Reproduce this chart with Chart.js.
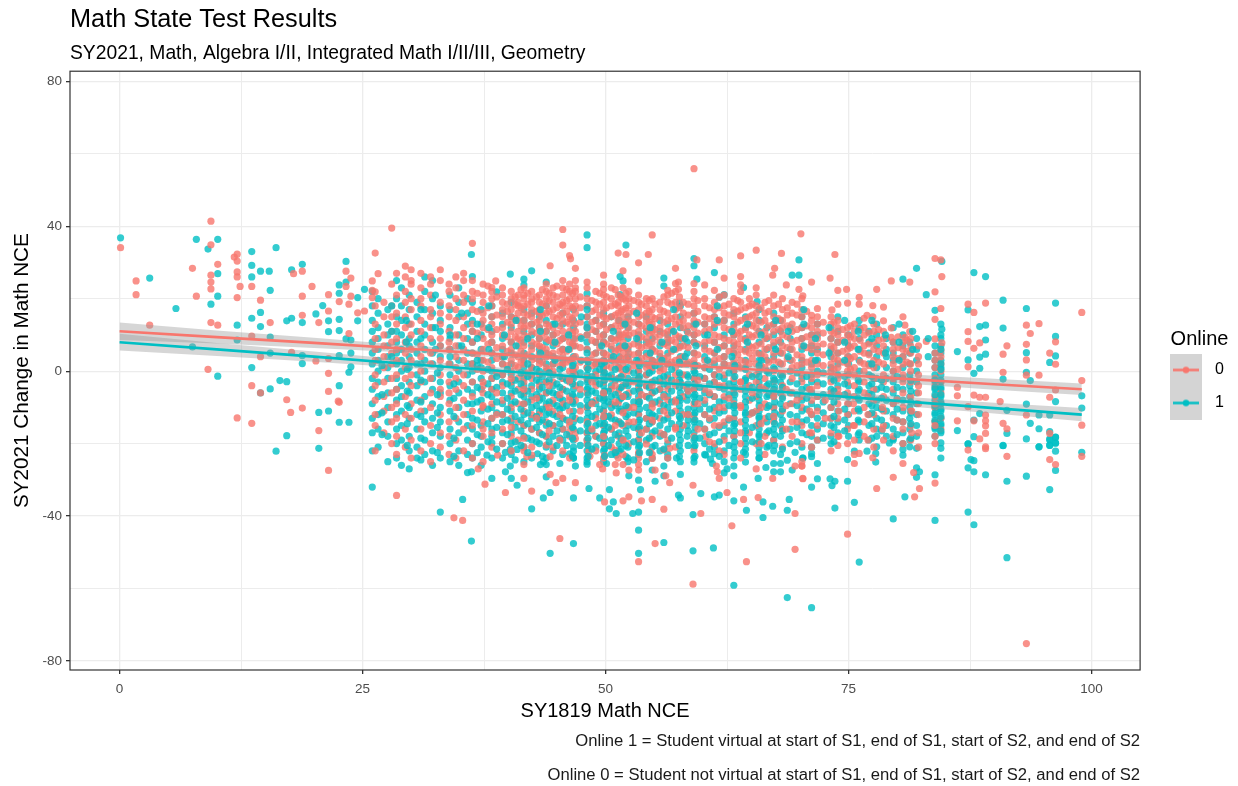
<!DOCTYPE html>
<html>
<head>
<meta charset="utf-8">
<title>Math State Test Results</title>
<script src="https://cdn.jsdelivr.net/npm/chart.js@4"></script>
<style>
    html, body { margin: 0; padding: 0; background: #fff; }
    #wrap { position: relative; width: 1238px; height: 786px; overflow: hidden; }
    .note { position: absolute; right: 98px; font: 16.65px "Liberation Sans", Arial, sans-serif; color: #1a1a1a; white-space: nowrap; }
</style>
</head>
<body>
<div id="wrap">
    <canvas id="scatterChart" width="1238" height="786"></canvas>
    <div class="note" style="top:731px">Online 1 = Student virtual at start of S1, end of S1, start of S2, and end of S2</div>
    <div class="note" style="top:765px">Online 0 = Student not virtual at start of S1, end of S1, start of S2, and end of S2</div>
</div>
<script>
var xTicks = [0, 12.5, 25, 37.5, 50, 62.5, 75, 87.5, 100];
var yTicks = [-80, -60, -40, -20, 0, 20, 40, 60, 80];
var xLabels = ["0", "", "25", "", "50", "", "75", "", "100"];
var yLabels = ["-80", "", "-40", "", "0", "", "40", "", "80"];

var trendScores = [0, 10, 20, 30, 40, 50, 60, 70, 80, 90, 99];
var online0Trend = [11, 9.4, 7.8, 6.1, 4.5, 2.9, 1.3, -0.3, -2, -3.6, -5];
var online0Upper = [13.4, 11.2, 9.2, 7.1, 5.3, 3.6, 2.1, 0.7, -0.7, -2.1, -3.4];
var online0Lower = [8.6, 7.6, 6.4, 5.1, 3.7, 2.2, 0.5, -1.3, -3.3, -5.1, -6.6];
var online1Trend = [8, 6, 4, 1.9, -0.1, -2.1, -4.1, -6.1, -8.2, -10.2, -12];
var online1Upper = [10.3, 7.8, 5.4, 3, 0.8, -1.3, -3.2, -5, -6.9, -8.7, -10.2];
var online1Lower = [5.7, 4.2, 2.6, 0.8, -1, -2.9, -5, -7.2, -9.5, -11.7, -13.8];

// single points: [score, change]
var online0Edge = [
    [0.1,34.1],[1.7,24.9],[1.7,21.1],[3.1,12.7],[7.5,28.4],[7.9,20.7],[9.4,41.4],[9.4,34.9],[9.4,26.5],[9.4,24.6],[9.4,22.7],[9.4,13.4],
    [10.1,12.7],[10.1,29.5],[11.8,31.5],[12.1,32.3],[12.1,30.4],[12.1,27.4],[12.1,26],[12.4,23.4],[12.1,20.3],[13.6,23.4],[14.5,19.6],[13.6,9.7],
    [15.5,13.4],[14.5,4],[17.7,5.2],[17.9,26.9],[18.8,27.6],[18.8,20.7],[18.8,15.4],[19.8,23.4],[20.5,13.4],[20.2,2.8],[21.5,21.1],[21.5,16.6],
    [22.6,19.2],[23.3,27.6],[23.3,23.4],[23.8,25.7],[23.8,20.7],[23.6,18.5],[23.6,10.4],[24.5,16.1],[25.2,16.6],[26.3,32.6],[26.6,26.9],[26,24.9],
    [26,22.3],[26.3,21.9],[26,20.3],[28,39.5],[9.1,0.5],[21.5,3.5],[13.6,-4],[14.5,-6],[21.5,-0.6],[21.5,-5.6],[17.2,-7.9],[22.5,-8.3],[22.6,-8.6],
    [17.6,-11.4],[18.8,-10.2],[12.1,-12.9],[13.6,-14.4],[20.5,-16.4],[21.5,-27.4],[26.3,-22],[28.5,-34.3],[34.4,-40.5],[35.3,-41.2],
    [36.3,35.3],[45.6,39.1],[45.6,34.8],[46.3,31.9],[46.4,31],[44.3,29.1],[46.9,28.4],[38.7,24.9],[38.3,23.1],[51.3,32.6],[52.1,32.2],[54.4,32.2],
    [54.8,37.6],[53.4,29.9],[51.8,27.7],[49.8,26.5],[53.4,24.9],[49.8,22.6],[48.1,24.6],[59.1,55.9],[59.4,30.7],[61.7,30.7],[57.2,28.4],[63.9,31.8],
    [65.5,33.4],[68.1,32.5],[70.1,37.9],[67.4,28.4],[67.2,26.5],[63.9,26.1],[62.2,25.7],[60.2,23.8],[59.1,24.2],[57.2,24.2],[57.5,24.6],[57.5,22.6],
    [56.4,22.3],[61.2,22.3],[63.9,23.8],[65.5,23],[68.6,23.8],[69.9,22.6],[70.3,20.8],[73.6,32.2],[71.2,24.6],[73.1,25.7],[73.9,22.3],[74.8,22.6],
    [76.1,20.4],[77.9,22.6],[79.4,24.9],[81.3,24.6],[83.9,31.1],[84.5,30.7],[84.6,26.1],[83.9,21.9],[73.9,18.5],[74.9,18.8],[77.5,18.1],[78.6,17.7],
    [71.8,17.3],[76.1,18.5],[73.3,16.9],[71.2,15.4],[71.8,15],[76.6,14.6],[76.9,15.4],[77.5,15],[78.6,13.9],[80.6,15],[80.8,12.7],[79.4,11.9],
    [81.3,10.9],[80.8,9.3],[79.4,9.3],[83.9,14.3],[84.5,17.3],[83.9,8.9],[83,8.2],[84.6,7.8],[84.5,5.8],[87.3,18.5],[87.9,16.2],[89.1,18.8],
    [87.3,10.9],[87.3,8.2],[87.9,6.3],[88.5,7.8],[87.3,1.2],[91.3,7],[90.9,4.7],[90.9,-0.3],[93.3,12.7],[93.7,10.4],[94.6,13.1],[93.3,7.4],
    [93.3,3.1],[95.7,5],[96.3,8.1],[96.3,1.9],[94.6,-1.1],[93.3,-1.1],[99,16.2],[99,-2.6],[99,-14.9],[95.7,-7.2],[90.6,-8.4],[89.1,-7.2],[88.5,-7.2],
    [87.9,-6.6],[86.2,-4.5],[86.2,-6.8],[87.3,-9.8],[86.2,-13.7],[87.9,-13.7],[89.1,-12.1],[89.1,-13.7],[89.1,-15.1],[90.9,-14.4],[91.3,-15.9],
    [93.3,-12.1],[95.7,-17.2],[89.1,-17.2],[88.5,-18.7],[89.1,-20.9],[96.3,-5.2],[74.9,-45],[93.3,-75.2],[77.9,-32.4],[79.6,-29.3],[82.3,-32.4],
    [81.8,-34.7],[83.9,-30.9],[81.7,-28],[91.3,-23.5],[99,-23.5],[95.7,-24.4],[96.3,-25.8],[87.3,-21.8],[89.1,-21.4],[70.3,-29.7],[70.2,-26.2],
    [75.6,-25.5],[80.6,-25.5],[73.9,-20.5],[76.1,-22.7],[77.5,-23.9],[37.6,-31.2],[39.7,-33.5],[42.4,-33.1],[41.6,-29.6],[41.6,-25.8],[41.9,-23.6],
    [42.4,-23.2],[44.3,-23.6],[44.3,-28.5],[44.9,-30.8],[45.6,-29.6],[46.9,-30.8],[45.3,-46.2],[49.9,-36.1],[51.8,-35.8],[52.4,-34.7],[53.7,-35.8],
    [54.8,-35.4],[56,-38.1],[51.1,-28.1],[49.7,-27],[49.4,-25.8],[51,-25.8],[51.8,-25.8],[52.4,-27.3],[53.4,-27.3],[53.4,-25.8],[55.1,-27.3],
    [56.2,-28.9],[56.6,-30.8],[59,-31.5],[59.8,-39.3],[62.5,-33.5],[61.4,-26.2],[61.5,-27.8],[61.7,-29.6],[63,-42.7],[64.2,-35.4],[65.7,-34.9],
    [65.5,-27],[67.2,-29.6],[69.5,-26.2],[70.2,-26.2],[70.3,-29.6],[69.5,-39.3],[69.5,-49.2],[64.5,-52.6],[55.1,-47.6],[53.4,-52.6],[59,-58.8],
    [36.9,-27],[38.9,-23.2],[41.6,-20.9],[43.9,-20.4],[46.3,-16.7],[46.9,-18.6],[48.1,-20.1],[48.3,-22.1],[48.4,-23.5],[49.9,-23.2],[51,-21.8],
    [53.4,-22.5],[54.2,-20.1],[54.6,-22.3],[54.8,-24.1],[56,-21.8],[56.6,-21.3],[60.3,-18.1],[61.7,-22]
];
var online1Edge = [
    [0.1,36.8],[3.1,25.7],[5.8,17.3],[7.9,36.4],[9.1,33.7],[10.1,36.4],[10.1,26.9],[10.1,20.7],[9.4,18.5],[7.5,6.7],[12.1,12.7],[12.1,8.6],
    [13.6,33],[13.6,29.2],[13.6,26],[14.5,27.6],[15.4,27.6],[15.5,22.3],[16.1,34.1],[14.5,16.2],[13.6,14.6],[14.5,12.3],[15.5,9.4],[15.5,5],
    [17.7,28],[18.8,29.5],[17.2,13.9],[17.7,14.6],[18.8,13.4],[18.8,4.3],[18.8,2.1],[13.6,1],[20.2,15.8],[20.9,18.1],[21.5,13.9],[21.5,10.9],
    [22.6,14.3],[22.6,11.2],[22.6,23.8],[22.6,21.5],[23.3,24.6],[23.3,30.3],[24.5,20.3],[25.2,22.6],[23.3,8.9],[23.8,8.6],[23.8,5],[22.6,4.3],
    [23.8,1.2],[24.5,13.9],[10.1,-1.4],[15.5,-4.9],[16.5,-2.6],[17.2,-2.9],[14.5,-6],[23.6,-0.3],[22.6,-4],[20.5,-11.4],[21.5,-11],[22.6,-14.1],
    [23.6,-14.1],[17.2,-17.8],[16.1,-22.1],[20.5,-21.3],[26,-32],[33,-38.9],[35.3,-35.4],[36.2,-46.9],[48.1,37.6],[48.1,34.1],[36.2,32.2],[52.1,34.8],
    [40.2,26.8],[42.4,27.7],[41.6,25.4],[41.6,23.8],[43.9,24.6],[36.3,26.1],[51.5,26.1],[51.8,24.9],[56,25.7],[56,23.5],[59.1,31.1],[59.1,29.1],
    [59.4,25.4],[61.2,27.2],[64.2,23.1],[69.9,30.7],[69.2,26.5],[69.9,26.5],[51.5,21.1],[48.1,21.4],[61.7,20.4],[62.2,21.1],[57.6,18.8],[65.6,19.2],
    [38.8,21.9],[82,28.4],[80.6,25.4],[83,21.1],[84.6,30.3],[87.9,27.2],[89.1,26.1],[90.9,19.6],[93.3,17.3],[96.3,18.8],[99,-6.8],[99,-10.2],
    [96.3,9.6],[96.3,4.2],[95.7,2.4],[93.3,5.1],[93.3,-0.3],[93.7,-2.6],[90.9,11.9],[90.9,-2.2],[91.3,-10.8],[93.3,-9.1],[94.6,-12.1],[95.7,-12.1],
    [93.7,-14.4],[94.6,-15.9],[95.7,-16.7],[95.7,-18.7],[95.7,-20.4],[96.3,-18.3],[96.3,-19.9],[96.3,-8.4],[93.3,-18.7],[94.6,-20.9],[90.9,-20.6],
    [91.3,-17.2],[86.2,5.4],[87.3,3.1],[87.9,-0.6],[88.5,0.8],[88.5,3.9],[89.1,4.7],[89.1,8.6],[88.5,12.3],[89.1,12.7],[87.3,16.9],[86.2,-16.4],
    [87.3,-20.1],[87.9,-18.1],[88.5,-11.7],[87.9,-13.5],[84.6,11.6],[83.9,16.8],[71.2,-65.3],[91.3,-51.5],[76.1,-52.7],[79.6,-40.8],[83.9,-41.2],
    [87.3,-38.9],[87.9,-42.4],[73.6,-37.8],[75.6,-36.2],[80.8,-34.7],[74.9,-30.4],[73.1,-29.7],[73.6,-30.4],[73.3,-31.6],[71.2,-32],[71.8,-29.7],
    [82,-26.7],[82.3,-27.8],[82,-29.3],[83.9,-28.6],[87.3,-26.7],[87.9,-27.8],[89.1,-28.6],[91.3,-30.4],[93.3,-29],[95.7,-32.7],[96.3,-27.4],
    [96.3,-22.1],[99,-22.4],[87.9,-24.7],[87.6,-24.4],[84.5,-24],[84.5,-21.3],[84.5,-19.8],[87.3,-20.1],[90.9,-20.5],[94.6,-20.9],[95.7,-20.5],
    [95.7,-19],[96.3,-19.8],[96.3,-18.2],[71.2,-22.7],[71.2,-23.6],[71.8,-25.5],[70.3,-24],[74.9,-24.4],[79.6,-18.6],[79.2,-19.8],[80.6,-21.6],
    [80.6,-23.2],[82,-21.3],[81.3,-20.9],[77.8,-25.1],[77.8,-22.7],[76.9,-22.1],[77.9,-20.9],[75.6,-22.1],[44.3,-50.3],[46.7,-47.6],[53.4,-43.9],
    [53.4,-50.3],[56,-47.3],[59,-49.6],[61.1,-48.8],[63.2,-59.1],[68.7,-62.5],[42.4,-38],[43.6,-35],[44.3,-33.5],[46.7,-35],[48.3,-32.4],[49.4,-35],
    [50.4,-32.7],[50.8,-36.1],[50.4,-38],[51.1,-39.3],[52.8,-39.3],[53.4,-38.9],[53.6,-32.7],[53.4,-30.1],[57.5,-34.2],[57.7,-35],[59,-39.6],
    [59.8,-33.8],[61.2,-34.7],[61.7,-34.2],[63.2,-35.8],[64.2,-32],[64.5,-38.4],[66.2,-36.1],[66.2,-40.4],[67.2,-37.3],[68.7,-38.4],[68.9,-35.4],
    [40.9,-31.5],[40.3,-29.6],[38.3,-29.6],[39.7,-27.8],[40.2,-26.2],[36.2,-27.8],[37.8,-23.2],[38.3,-19.8],[40.3,-19.8],[39.7,-22.4],[40.2,-21.6],
    [40.9,-21.6],[43,-22.8],[43.3,-25.8],[43.9,-25.8],[43.6,-25],[43.9,-29.2],[46.3,-22.8],[46.7,-22.1],[46.7,-24],[46.9,-26.2],[48.1,-25],[48.1,-25.7],
    [50.1,-25.5],[51.1,-23.2],[52.1,-23.6],[52.3,-25],[52.4,-28.9],[54.2,-25],[54.8,-27.3],[55.1,-30.4],[56,-26.2],[56,-28.9],[56.4,-24],[57.3,-24],
    [57.7,-28.5],[59.1,-25.1],[60.3,-23.2],[60.8,-24.3],[61.2,-22.8],[61,-25.5],[62.2,-28.1],[62.5,-27],[63.2,-26.2],[63.2,-28.9],[64.2,-22.4],
    [64.4,-25.1],[65.7,-29.6],[65.8,-24],[66.5,-26.6],[67.3,-25.5],[67.3,-27.8],[68,-25.5],[68.7,-24.6],[68,-27.8],[69.2,-27.3],[69.5,-22.4],[70.3,-24]
];

// the dense middle of the cloud, one row per score column: [score, [changes]]
var online0Stripes = [
    [26.3,[18,13,9,6,3,-1,-4,-8,-12,-15]],
    [27.2,[19,15,10,7,4,1,-3,-7,-11,-17]],
    [28,[24,18,15,11,8,5,2,-2,-6,-10,-14,-20]],
    [28.5,[27,21,16,13,9,6,3,-1,-5,-9,-13,-18,-23]],
    [29.4,[29,26,22,19,15,12,8,5,1,-2,-7,-12,-16,-21]],
    [30,[28,25,24,20,17,13,10,6,3,-1,-4,-9,-13,-19,-24]],
    [31,[27,23,20,18,14,11,7,4,0,-3,-8,-11,-16,-22]],
    [32,[26,24,21,17,15,12,9,5,2,-2,-6,-10,-15,-20,-25]],
    [33,[28,25,19,16,13,9,7,3,-1,-5,-7,-12,-17,-21]],
    [33.9,[24,22,18,15,11,8,6,2,-3,-6,-9,-14,-18,-23]],
    [34.6,[26,23,20,17,14,10,7,4,1,-2,-5,-10,-13,-19,-24]],
    [35.4,[27,25,21,19,15,12,9,6,3,-1,-4,-8,-12,-16,-22]],
    [36.3,[25,22,20,17,13,11,8,5,2,-3,-7,-11,-15,-20,-24]],
    [37.4,[24,21,19,16,14,12,9,6,3,0,-4,-6,-10,-14,-18,-25]],
    [38.3,[22,20,18,15,13,10,8,5,1,-2,-5,-9,-13,-17,-21]],
    [39.4,[23,21,19,17,15,12,10,7,4,2,-1,-4,-8,-12,-16,-20]],
    [40.3,[22,20,17,15,13,11,8,6,3,0,-3,-7,-10,-13,-18,-22]],
    [41,[21,19,18,16,14,11,9,7,4,1,-2,-5,-9,-14,-19]],
    [41.6,[23,21,20,18,16,14,12,10,7,4,2,-1,-3,-6,-11,-15,-22]],
    [42.4,[22,20,19,17,15,13,11,8,6,3,1,-2,-5,-8,-12,-16,-21]],
    [43.2,[21,19,17,16,14,12,9,7,5,2,-1,-4,-7,-12,-17]],
    [43.9,[24,22,20,18,16,13,11,9,6,4,1,-3,-6,-10,-14,-18]],
    [44.6,[23,21,19,17,15,12,10,8,5,2,0,-3,-8,-11,-15,-21]],
    [45.6,[25,23,21,19,18,16,14,11,9,6,4,2,-2,-5,-9,-13,-16,-22]],
    [46.3,[24,22,20,18,15,13,11,8,6,3,0,-3,-7,-11,-15,-18,-24]],
    [46.9,[25,23,22,20,18,16,13,11,9,7,4,1,-1,-4,-8,-13,-17]],
    [48.1,[23,20,18,15,12,10,6,3,1,-2,-6,-10,-14,-17,-19]],
    [49,[22,19,17,14,11,8,5,2,-1,-4,-8,-13,-18,-22]],
    [49.8,[24,21,19,17,15,13,10,8,5,3,0,-3,-7,-11,-15,-20,-24]],
    [50.6,[23,20,18,15,12,9,7,4,1,-2,-5,-9,-12,-16,-21]],
    [51.3,[21,19,18,16,14,11,9,6,3,1,-2,-6,-9,-14,-18,-24]],
    [51.8,[23,20,17,15,13,10,8,5,2,-1,-4,-7,-11,-15,-19,-23]],
    [52.4,[22,20,18,16,14,12,10,7,5,3,0,-3,-6,-10,-14,-20]],
    [53.4,[21,19,17,15,13,11,9,7,5,2,0,-2,-5,-8,-12,-16,-19,-24]],
    [54.2,[20,18,16,14,12,9,7,4,1,-1,-4,-7,-13,-16]],
    [54.8,[20,17,15,13,11,8,6,3,1,-3,-6,-10,-14,-18,-23]],
    [55.6,[19,17,15,12,10,8,5,3,0,-3,-5,-9,-13,-17]],
    [56.4,[21,19,16,14,11,9,7,4,2,-2,-5,-8,-12,-19,-24]],
    [57.2,[22,19,17,15,13,10,8,6,3,1,-1,-4,-8,-11,-16,-21]],
    [58,[19,16,14,12,9,7,4,2,-1,-4,-7,-12,-15]],
    [59.1,[22,20,18,16,14,12,10,8,5,3,1,-2,-5,-9,-13,-18,-22]],
    [60.2,[20,18,15,13,11,8,6,3,1,-2,-5,-8,-12,-16]],
    [61.2,[19,17,15,13,10,8,5,3,-1,-3,-7,-11,-15,-20]],
    [62.2,[21,18,16,14,12,9,7,4,2,-1,-4,-7,-10,-14,-19,-23]],
    [63.2,[20,17,15,12,10,8,6,3,0,-2,-6,-9,-13,-18]],
    [63.9,[22,19,17,14,11,9,6,3,1,-3,-5,-10,-14,-20,-24]],
    [64.8,[20,18,15,13,10,7,5,2,-1,-4,-8,-12,-17]],
    [65.5,[21,18,16,14,12,10,7,5,2,-1,-3,-7,-11,-15,-20]],
    [66.4,[19,16,14,11,9,6,4,1,-2,-5,-9,-13,-18,-23]],
    [67.3,[21,18,15,13,11,8,5,3,0,-3,-6,-10,-14,-19]],
    [68.2,[20,17,14,12,10,7,5,2,-1,-4,-7,-11,-16,-21]],
    [69.2,[19,16,13,11,8,6,3,1,-2,-6,-9,-14,-18]],
    [70.2,[20,17,15,12,9,7,4,2,-1,-3,-7,-10,-15,-20,-25]],
    [71.2,[14,12,10,8,6,3,1,-2,-5,-8,-12,-17,-21]],
    [71.8,[13,11,9,7,5,2,-1,-4,-7,-11,-15,-19]],
    [73.2,[15,13,11,9,7,5,2,0,-3,-6,-10,-13,-17,-22]],
    [73.9,[14,12,10,8,5,3,1,-2,-5,-9,-13,-18]],
    [74.9,[12,10,8,6,4,2,0,-3,-6,-9,-12,-16,-20]],
    [75.6,[13,11,9,7,4,1,-1,-4,-7,-11,-15,-19,-23]],
    [76.6,[12,10,7,5,2,0,-3,-6,-10,-14,-18]],
    [77.6,[13,11,8,6,3,1,-2,-5,-8,-12,-16,-21]],
    [78.6,[11,9,7,5,2,-1,-3,-7,-11,-15,-19]],
    [79.6,[8,6,4,2,0,-2,-5,-9,-13,-18,-22]],
    [80.6,[8,6,4,2,-1,-3,-6,-10,-14,-16,-20]],
    [81.4,[9,7,5,2,0,-3,-7,-11,-15,-19]],
    [82.2,[7,4,2,-1,-4,-6,-9,-12,-17,-21]],
    [83.9,[5,3,1,-2,-4,-7,-10,-14,-18,-20]],
    [84.5,[4,2,0,-3,-6,-9,-13,-16]]
];
// more of the red marks in the upper half, where they crowd together
var online0UpperStripes = [
    [36.8,[21.5,16.5,10.5,4.5,0.5]],
    [37.9,[23.5,17.5,11.5,7.5,2.5]],
    [38.8,[20.5,15.5,11.5,6.5,3.5,-0.5]],
    [39.9,[18.5,16.5,13.5,9.5,5.5,1.5]],
    [40.7,[20.5,18.5,14.5,9.5,4.5,1.5]],
    [41.3,[22.5,17.5,12.5,8.5,5.5,2.5]],
    [42,[21.5,18.5,15.5,12.5,9.5,4.5,-0.5]],
    [42.9,[20.5,16.5,13.5,10.5,7.5,3.5]],
    [43.5,[22.5,18.5,15.5,10.5,6.5,2.5]],
    [44.2,[21.5,19.5,16.5,12.5,8.5,4.5,0.5]],
    [45,[23.5,20.5,17.5,14.5,10.5,7.5,3.5]],
    [45.3,[18.5,15.5,12.5,8.5,5.5,1.5]],
    [46,[22.5,19.5,16.5,13.5,9.5,5.5,2.5]],
    [46.6,[21.5,17.5,14.5,10.5,7.5,3.5,0.5]],
    [47.4,[20.5,17.5,13.5,9.5,6.5,2.5]],
    [48.6,[19.5,16.5,13.5,11.5,8.5,4.5,1.5]],
    [49.4,[21.5,18.5,15.5,12.5,9.5,6.5,2.5]],
    [50.1,[20.5,17.5,14.5,11.5,7.5,4.5,1.5]],
    [51,[22.5,18.5,15.5,12.5,8.5,5.5,2.5]],
    [51.6,[20.5,16.5,12.5,9.5,6.5,3.5,0.5]],
    [52.1,[21.5,19.5,17.5,13.5,10.5,6.5,3.5]],
    [52.9,[19.5,16.5,13.5,10.5,7.5,4.5,1.5]],
    [53.7,[18.5,15.5,12.5,9.5,6.5,3.5]],
    [54.5,[19.5,16.5,13.5,10.5,7.5,4.5,1.5]],
    [55.1,[18.5,14.5,11.5,9.5,5.5,2.5]],
    [56,[20.5,16.5,13.5,10.5,7.5,3.5,0.5]],
    [56.8,[21.5,18.5,14.5,11.5,8.5,5.5,2.5]],
    [57.6,[20.5,17.5,13.5,9.5,6.5,3.5]],
    [58.5,[18.5,15.5,12.5,10.5,6.5,2.5]],
    [59.5,[19.5,16.5,13.5,10.5,7.5,4.5,1.5]],
    [60.7,[17.5,14.5,11.5,8.5,5.5,2.5]],
    [61.7,[20.5,17.5,13.5,9.5,6.5,3.5,0.5]],
    [62.7,[18.5,15.5,11.5,8.5,5.5,1.5]],
    [63.6,[19.5,16.5,13.5,10.5,7.5,4.5,1.5]],
    [64.4,[17.5,14.5,11.5,8.5,5.5,2.5]],
    [65.1,[18.5,15.5,12.5,9.5,6.5,3.5]],
    [66,[17.5,13.5,10.5,7.5,4.5,1.5]],
    [66.8,[19.5,16.5,12.5,9.5,6.5,2.5]],
    [67.8,[18.5,14.5,11.5,8.5,5.5,2.5]],
    [68.7,[17.5,15.5,12.5,9.5,6.5,3.5]],
    [69.7,[18.5,15.5,11.5,8.5,4.5,1.5]],
    [70.7,[16.5,12.5,9.5,6.5,2.5]],
    [72.4,[13.5,10.5,7.5,4.5,1.5]],
    [73.5,[13.5,10.5,6.5,3.5,0.5]],
    [74.4,[11.5,8.5,5.5,2.5]],
    [75.2,[12.5,9.5,6.5,3.5,0.5]],
    [76.2,[11.5,8.5,5.5,2.5]],
    [77.1,[10.5,7.5,4.5,1.5]],
    [78.1,[11.5,8.5,5.5,2.5]],
    [80.1,[9.5,6.5,3.5,0.5]],
    [81,[8.5,5.5,2.5]]
];
// red marks that show through the teal in the lower half
var online0Patches = [
    [37.4,[-3,-9.5,-16]],[38.8,[-6,-12]],[40.3,[-2,-15.5]],[41.6,[-5,-9,-18.5]],[42.9,[-7.5,-13]],[44.2,[-4,-10,-16.5]],[45.3,[-6.5,-12,-19]],
    [46.3,[-2.5,-8,-14]],[47.4,[-5,-11]],[48.6,[-3,-9,-16]],[49.8,[-6,-12.5,-18]],[51,[-4,-8.5,-15]],[51.8,[-7,-11.5,-19]],[52.9,[-3,-10,-14]],
    [53.7,[-6.5,-17]],[54.8,[-4,-9,-13.5]],[56,[-7,-11,-17.5]],[57.2,[-3,-8.5,-15.5]],[58.5,[-5.5,-12]],[59.5,[-2.5,-9,-16]],[60.7,[-6,-13,-19.5]],
    [61.7,[-4,-10,-15]],[62.7,[-7.5,-13]],[63.9,[-3,-9.5,-17]],[65.1,[-6,-11.5]],[66,[-4.5,-10,-14.5,-20]],[67.3,[-7,-12.5]],[68.6,[-5,-9.5,-16]],
    [69.7,[-8,-14]],[71,[-5,-11,-17]],[72.6,[-8,-13]],[74,[-6.5,-11,-18]],[75.5,[-9,-15]],[77,[-7,-12,-19]],[78.5,[-10,-16]],[80,[-8,-13.5]],
    [81.5,[-11,-17]],[83.9,[-9,-15]]
];
var online1Stripes = [
    [26,[22,18,14,11,8,5,2,-2,-5,-9,-13,-17,-22]],
    [26.6,[20,16,12,9,6,3,0,-3,-7,-12,-16,-21]],
    [27.6,[17,13,10,7,4,1,-2,-6,-10,-14,-18,-25]],
    [28.5,[25,20,15,11,8,5,2,-2,-5,-8,-12,-16,-20,-24]],
    [29,[23,18,14,10,6,3,0,-4,-7,-11,-15,-19,-26]],
    [29.8,[21,17,13,9,7,4,1,-3,-6,-10,-13,-18,-22,-27]],
    [30.6,[19,15,11,8,5,2,-1,-4,-8,-12,-16,-21,-24]],
    [31.4,[26,22,17,13,10,6,3,0,-3,-7,-11,-14,-19,-23]],
    [32.2,[25,20,16,12,8,5,2,-2,-5,-9,-13,-17,-22,-26]],
    [33,[18,14,11,7,4,1,-3,-6,-10,-14,-18,-24]],
    [34,[21,17,12,9,6,2,-1,-4,-8,-11,-16,-20,-25]],
    [34.9,[23,19,15,10,7,3,0,-3,-6,-10,-14,-17,-22,-26]],
    [35.8,[20,16,13,9,5,2,-1,-5,-9,-12,-15,-19,-23,-28]],
    [36.3,[19,14,11,8,5,2,0,-3,-6,-9,-13,-16,-20,-24]],
    [37.2,[17,13,10,6,3,1,-2,-5,-8,-11,-15,-18,-21,-26]],
    [38.3,[18,15,11,8,5,3,0,-2,-5,-7,-10,-13,-16,-18,-24]],
    [39.4,[16,13,9,6,4,2,-1,-3,-6,-9,-12,-14,-17,-20,-24]],
    [40.3,[19,15,12,8,5,2,-1,-4,-6,-9,-11,-14,-17,-23]],
    [41.6,[17,14,11,8,5,3,1,-2,-4,-7,-9,-12,-15,-18,-21,-25]],
    [42.4,[16,13,10,7,4,1,-1,-4,-7,-10,-13,-16,-19,-24]],
    [43.2,[15,12,9,6,3,0,-3,-5,-8,-11,-14,-17,-20]],
    [43.9,[18,14,11,8,5,2,0,-3,-6,-9,-12,-15,-18,-21,-24]],
    [44.6,[13,10,7,4,2,-1,-4,-6,-9,-12,-15,-18,-22]],
    [45.6,[16,13,9,6,3,1,-2,-5,-8,-10,-13,-16,-19,-23]],
    [46.7,[17,14,12,9,7,4,2,0,-2,-5,-7,-9,-11,-14,-16,-19,-21,-24]],
    [48.1,[18,15,13,10,8,6,3,1,-1,-3,-5,-8,-10,-13,-15,-17,-19,-22,-24]],
    [49,[14,11,8,5,2,0,-3,-6,-9,-12,-15,-18,-21]],
    [49.8,[16,13,10,8,5,3,1,-1,-4,-6,-8,-11,-13,-15,-17,-20,-22,-25]],
    [50.6,[15,12,9,6,3,-1,-4,-7,-10,-13,-16,-19,-23]],
    [51.4,[14,10,7,4,1,-2,-5,-8,-11,-14,-17,-20,-22]],
    [52.3,[15,12,9,6,4,1,-2,-4,-7,-10,-12,-15,-18,-21,-24]],
    [53.4,[13,10,8,5,3,0,-2,-4,-7,-9,-12,-14,-16,-19,-21,-23]],
    [54.2,[15,11,8,5,2,-1,-4,-7,-10,-13,-16,-19]],
    [54.8,[12,9,6,3,0,-3,-6,-9,-12,-14,-17,-21,-24]],
    [55.6,[14,11,7,4,1,-2,-5,-8,-11,-15,-18,-22]],
    [56.4,[13,10,8,5,2,-1,-4,-7,-10,-13,-16,-20,-23]],
    [57.7,[18,15,12,9,7,4,2,-1,-3,-6,-8,-11,-13,-16,-19,-22,-25]],
    [58.4,[11,8,5,2,-1,-5,-8,-12,-15,-18]],
    [59.1,[16,13,10,8,5,2,0,-2,-5,-7,-10,-12,-14,-17,-19,-21,-24]],
    [60.2,[13,10,7,4,1,-2,-6,-9,-12,-16,-20,-23]],
    [61.2,[15,12,8,5,2,-1,-3,-7,-10,-13,-17,-21]],
    [62.2,[14,10,7,4,2,-2,-5,-8,-11,-15,-18,-22,-25]],
    [63.2,[16,13,10,7,5,2,0,-3,-5,-8,-10,-13,-15,-18,-21,-24]],
    [64.4,[15,12,9,6,3,1,-2,-4,-7,-10,-12,-15,-17,-20,-23]],
    [65.8,[17,14,11,8,5,3,0,-3,-5,-8,-11,-13,-16,-18,-21,-24]],
    [66.6,[12,9,6,3,0,-4,-7,-10,-14,-17,-21]],
    [67.3,[16,13,10,7,4,1,-2,-5,-7,-10,-13,-16,-19,-22]],
    [68,[14,11,8,5,2,-1,-3,-6,-9,-12,-15,-18,-23]],
    [69,[12,9,6,3,0,-3,-6,-9,-12,-16,-20]],
    [70.2,[15,12,9,6,3,1,-2,-5,-8,-11,-14,-17,-21]],
    [71.2,[10,7,5,2,-1,-3,-6,-9,-12,-15,-18,-21]],
    [71.8,[13,10,6,3,0,-3,-7,-10,-13,-16,-19]],
    [73.2,[12,9,6,4,1,-2,-5,-7,-10,-13,-15,-18,-20]],
    [73.9,[15,11,8,5,2,-1,-4,-7,-11,-14,-17]],
    [75,[10,7,4,2,-1,-4,-7,-9,-12,-15,-18]],
    [76.1,[14,12,9,6,3,0,-3,-5,-8,-11,-14,-17,-19]],
    [77.1,[11,8,5,2,-1,-4,-6,-9,-12,-15,-19]],
    [77.9,[13,10,7,4,1,-2,-5,-8,-10,-13,-16,-18]],
    [78.9,[9,6,4,1,-2,-5,-8,-11,-15,-18]],
    [79.6,[12,8,5,3,0,-3,-6,-9,-12,-16,-19]],
    [80.6,[10,7,4,1,-2,-5,-8,-11,-14,-17,-20]],
    [81.3,[8,5,2,-1,-4,-7,-10,-13,-16,-19]],
    [82,[9,6,3,0,-3,-6,-9,-12,-15,-18]],
    [83.9,[7,5,3,1,-1,-3,-5,-8,-10,-12,-14,-16,-18]],
    [84.5,[9,7,5,3,1,-1,-3,-5,-7,-9,-11,-13,-15,-17]]
];
// teal marks of the lower half, which sit on top of the red ones there
var online1LowerStripes = [
    [27,[1.5,-6.5,-11.5,-17.5]],
    [29.6,[0.5,-5.5,-9.5,-14.5,-20.5]],
    [31,[-2.5,-8.5,-12.5,-18.5,-24.5]],
    [32.7,[-0.5,-6.5,-11.5,-15.5,-22.5]],
    [34.4,[-3.5,-7.5,-12.5,-18.5,-23.5]],
    [36.8,[1.5,-4.5,-8.5,-13.5,-17.5,-22.5]],
    [37.9,[0.5,-3.5,-6.5,-10.5,-14.5,-19.5]],
    [38.8,[-1.5,-4.5,-8.5,-11.5,-15.5,-21.5]],
    [39.9,[0.5,-3.5,-7.5,-10.5,-13.5,-17.5]],
    [40.7,[-2.5,-5.5,-8.5,-12.5,-15.5,-19.5,-24.5]],
    [41.3,[-0.5,-3.5,-6.5,-10.5,-13.5,-16.5,-20.5]],
    [42,[-1.5,-5.5,-8.5,-11.5,-14.5,-18.5,-22.5]],
    [42.9,[0.5,-2.5,-6.5,-9.5,-12.5,-15.5,-19.5]],
    [43.5,[-1.5,-4.5,-7.5,-10.5,-13.5,-17.5,-23.5]],
    [44.2,[-0.5,-2.5,-5.5,-8.5,-11.5,-14.5,-19.5]],
    [45,[-3.5,-6.5,-9.5,-12.5,-16.5,-20.5]],
    [45.3,[0.5,-1.5,-4.5,-7.5,-10.5,-14.5,-18.5,-25.5]],
    [46,[-2.5,-5.5,-9.5,-13.5,-17.5,-20.5]],
    [46.6,[1.5,-1.5,-3.5,-6.5,-8.5,-12.5,-15.5,-18.5,-23.5]],
    [47.4,[-0.5,-3.5,-6.5,-9.5,-13.5,-16.5,-20.5]],
    [48.2,[2.5,0.5,-2.5,-4.5,-6.5,-9.5,-11.5,-14.5,-16.5,-18.5,-20.5,-23.5]],
    [48.6,[-1.5,-5.5,-8.5,-12.5,-16.5,-21.5]],
    [49.4,[0.5,-3.5,-7.5,-10.5,-14.5,-18.5]],
    [49.9,[2.5,-0.5,-2.5,-5.5,-7.5,-9.5,-12.5,-14.5,-16.5,-18.5,-21.5,-23.5]],
    [50.3,[-1.5,-5.5,-8.5,-12.5,-15.5,-20.5]],
    [51,[0.5,-2.5,-6.5,-9.5,-13.5,-17.5,-22.5]],
    [51.6,[-1.5,-4.5,-7.5,-10.5,-14.5,-18.5,-21.5]],
    [52.1,[0.5,-3.5,-6.5,-9.5,-12.5,-16.5,-20.5]],
    [52.9,[-0.5,-2.5,-5.5,-8.5,-11.5,-15.5,-19.5,-24.5]],
    [53.5,[1.5,-1.5,-3.5,-5.5,-8.5,-10.5,-13.5,-15.5,-17.5,-20.5,-22.5]],
    [54.5,[-0.5,-4.5,-7.5,-11.5,-14.5,-18.5,-22.5]],
    [55.1,[1.5,-2.5,-5.5,-8.5,-12.5,-16.5,-20.5]],
    [56,[-1.5,-3.5,-6.5,-9.5,-13.5,-17.5,-21.5]],
    [56.8,[0.5,-2.5,-5.5,-8.5,-11.5,-14.5,-18.5]],
    [57.6,[2.5,-0.5,-2.5,-4.5,-7.5,-9.5,-12.5,-14.5,-17.5,-20.5,-23.5]],
    [58.5,[-1.5,-3.5,-6.5,-10.5,-13.5,-16.5,-20.5]],
    [59.2,[1.5,-0.5,-3.5,-6.5,-8.5,-11.5,-13.5,-15.5,-18.5,-20.5,-23.5]],
    [59.7,[-1.5,-4.5,-7.5,-10.5,-14.5,-18.5]],
    [60.7,[0.5,-3.5,-6.5,-10.5,-13.5,-17.5,-21.5]],
    [61.7,[-1.5,-4.5,-8.5,-11.5,-15.5,-19.5,-23.5]],
    [62.7,[-0.5,-3.5,-6.5,-9.5,-13.5,-16.5,-20.5]],
    [63.3,[1.5,-1.5,-4.5,-6.5,-9.5,-11.5,-14.5,-16.5,-19.5,-22.5]],
    [64.4,[0.5,-2.5,-5.5,-8.5,-11.5,-13.5,-16.5,-18.5,-21.5]],
    [65.1,[-1.5,-4.5,-7.5,-11.5,-15.5,-19.5]],
    [65.8,[1.5,-1.5,-4.5,-6.5,-9.5,-12.5,-14.5,-17.5,-19.5,-22.5]],
    [66.8,[-0.5,-3.5,-6.5,-9.5,-12.5,-16.5,-20.5]],
    [67.4,[0.5,-2.5,-4.5,-8.5,-11.5,-14.5,-17.5,-20.5]],
    [68.2,[-1.5,-4.5,-7.5,-10.5,-13.5,-16.5,-21.5]],
    [69.7,[-0.5,-3.5,-6.5,-9.5,-12.5,-15.5,-19.5]],
    [70.7,[-1.5,-4.5,-7.5,-10.5,-13.5,-17.5]],
    [72.4,[-0.5,-3.5,-6.5,-8.5,-11.5,-14.5,-18.5]],
    [73.5,[-2.5,-5.5,-8.5,-12.5,-15.5,-19.5]],
    [74.6,[-1.5,-3.5,-6.5,-10.5,-13.5,-16.5]],
    [76,[-2.5,-5.5,-7.5,-10.5,-13.5,-17.5]],
    [77.4,[-1.5,-3.5,-6.5,-9.5,-11.5,-14.5,-18.5]],
    [78.4,[-2.5,-4.5,-7.5,-10.5,-13.5,-16.5]],
    [80,[-1.5,-4.5,-7.5,-10.5,-13.5,-17.5]],
    [81.4,[-2.5,-5.5,-8.5,-11.5,-14.5,-18.5]],
    [83.9,[-2.5,-4.5,-6.5,-9.5,-11.5,-13.5,-15.5]],
    [84.5,[0.5,-2.5,-4.5,-6.5,-8.5,-10.5,-12.5,-14.5,-16.5]]
];
// teal marks that show through the red in the upper half
var online1Patches = [
    [28,[4,11,18]],[29.5,[8,14]],[31,[2,9,17]],[32.5,[6,12,21]],[34,[4,10]],[35.2,[7,16]],[36.8,[3,9,13]],[38,[6,12,18]],[39.6,[4,10]],[40.8,[7,14]],
    [42,[2,9]],[43.3,[5,11,17]],[44.8,[3,8,13]],[46.2,[6,10]],[47.5,[3,9,15]],[48.1,[5,12,17]],[49.6,[2,7]],[50.8,[4,11]],[52,[7,13]],[53.2,[3,9,16]],
    [54.6,[5,12]],[55.8,[3,8]],[57,[6,11,17]],[58.2,[4,9]],[59.3,[7,13]],[60.5,[3,10]],[61.5,[6,14,18]],[63,[4,11]],[64.6,[8,13]],[66,[3,10]],
    [67.5,[6,14]],[68.8,[4,11]],[70.4,[7,13,17]],[71.6,[3,9]],[73,[5,12]],[74.6,[3,8,14]],[76,[6,11]],[77.4,[2,9,14]],[78.8,[5,10]],[80.2,[3,8,13]],
    [81.6,[6,11]],[83.2,[4,9]],[84.5,[2,6,10,13]]
];

function toPoints(edge, stripes) {
    var pts = edge.map(function (p) { return {x: p[0], y: p[1]}; });
    stripes.forEach(function (row) {
        row[1].forEach(function (v) { pts.push({x: row[0], y: v}); });
    });
    return pts;
}

function toLine(xs, ys) {
    return xs.map(function (x, i) { return {x: x, y: ys[i]}; });
}

var red = "#F8766D";
var teal = "#00BFC4";
var redPoint = "rgba(248,118,109,0.8)";
var tealPoint = "rgba(0,191,196,0.8)";
var ribbon = "rgba(153,153,153,0.4)";
var fontName = '"Liberation Sans", Arial, sans-serif';

// legend key: grey square with the line and the dot on it
function legendKey(color) {
    var c = document.createElement("canvas");
    c.width = 32;
    c.height = 33;
    var k = c.getContext("2d");
    k.fillStyle = "#d4d4d4";
    k.fillRect(0, 0, 32, 33);
    k.strokeStyle = color;
    k.lineWidth = 2.5;
    k.beginPath();
    k.moveTo(3, 16.5);
    k.lineTo(29, 16.5);
    k.stroke();
    k.fillStyle = color;
    k.beginPath();
    k.arc(16, 16.5, 3.2, 0, Math.PI * 2);
    k.fill();
    return c;
}

function pointSet(label, pts, color) {
    return {label: label, data: pts, backgroundColor: color, pointRadius: 3.6, borderWidth: 0};
}

function bandSet(xs, ys, fill) {
    return {type: "line", data: toLine(xs, ys), borderWidth: 0, pointRadius: 0, backgroundColor: ribbon, fill: fill, tension: 0};
}

function lineSet(xs, ys, color) {
    return {type: "line", data: toLine(xs, ys), borderColor: color, borderWidth: 2.6, pointRadius: 0, fill: false, tension: 0};
}

var panelBorder = {
    id: "panelBorder",
    afterLayout: function (chart) {
        // legend sits where the reference has it, not where the box model puts it
        var lg = chart.legend;
        lg.left = 1148;
        lg.width = 103;
        lg.right = lg.left + lg.width;
        lg.top = 327;
        lg.bottom = 430;
    },
    afterDraw: function (chart) {
        var a = chart.chartArea, c = chart.ctx;
        c.save();
        c.strokeStyle = "#333333";
        c.lineWidth = 1.2;
        c.strokeRect(a.left, a.top, a.right - a.left, a.bottom - a.top);
        c.restore();
    }
};

function axisOptions(ticks, labels, min, max, titleText, titleSize, labelGap, fixSize) {
    return {
        min: min,
        max: max,
        title: {display: true, text: titleText, color: "#000", font: {family: fontName, size: titleSize}, padding: {top: 3, bottom: 0}},
        afterBuildTicks: function (axis) {
            axis.ticks = ticks.map(function (v) { return {value: v}; });
        },
        afterFit: fixSize,
        grid: {
            color: "#ececec",
            lineWidth: function (ctx) { return ctx.index % 2 === 0 ? 1.3 : 1; },
            tickColor: function (ctx) { return ctx.index % 2 === 0 ? "#333333" : "rgba(0,0,0,0)"; },
            tickLength: 4,
            drawTicks: true
        },
        border: {display: false},
        ticks: {
            color: "#4D4D4D",
            font: {family: fontName, size: 13.5},
            padding: labelGap,
            autoSkip: false,
            maxRotation: 0,
            callback: function (value, index) { return labels[index]; }
        }
    };
}

var ctx = document.getElementById("scatterChart").getContext("2d");
new Chart(ctx, {
    type: "scatter",
    plugins: [panelBorder],
    data: {
        // Chart.js paints the first dataset last, so the top layer comes first here
        datasets: [
            lineSet(trendScores, online1Trend, teal),
            lineSet(trendScores, online0Trend, red),
            bandSet(trendScores, online1Upper, "+1"),
            bandSet(trendScores, online1Lower, false),
            bandSet(trendScores, online0Upper, "+1"),
            bandSet(trendScores, online0Lower, false),
            pointSet("0", toPoints([], online0Patches), redPoint),
            pointSet("1", toPoints([], online1Patches), tealPoint),
            pointSet("1", toPoints([], online1LowerStripes), tealPoint),
            pointSet("0", toPoints(online0Edge, online0Stripes.concat(online0UpperStripes)), redPoint),
            pointSet("1", toPoints(online1Edge, online1Stripes), tealPoint)
        ]
    },
    options: {
        responsive: false,
        animation: false,
        layout: {padding: {left: 7, right: 12, top: 0, bottom: 63}},
        scales: {
            x: axisOptions(xTicks, xLabels, -5.1, 105, "SY1819 Math NCE", 20, 7, function (axis) { axis.height = 53; }),
            y: axisOptions(yTicks, yLabels, -82.5, 82.8, "SY2021 Change in Math NCE", 20.7, 4, function (axis) { axis.width = 63; })
        },
        plugins: {
            tooltip: {enabled: false},
            title: {
                display: true,
                text: "Math State Test Results",
                align: "start",
                fullSize: false,
                color: "#000",
                font: {family: fontName, size: 25.3, weight: "normal"},
                padding: {top: 5, bottom: 6.5}
            },
            subtitle: {
                display: true,
                text: "SY2021, Math, Algebra I/II, Integrated Math I/II/III, Geometry",
                align: "start",
                fullSize: false,
                color: "#000",
                font: {family: fontName, size: 19.3, weight: "normal"},
                padding: {top: 0, bottom: 6.2}
            },
            legend: {
                position: "right",
                fullSize: false,
                align: "center",
                title: {display: true, text: "Online", color: "#000", font: {family: fontName, size: 20}, padding: {top: 0, bottom: -8}},
                labels: {
                    usePointStyle: true,
                    pointStyleWidth: 42,
                    padding: 17,
                    color: "#000",
                    font: {family: fontName, size: 16},
                    generateLabels: function () {
                        return [
                            {text: "0", pointStyle: legendKey(red), fillStyle: red, strokeStyle: red, lineWidth: 0, datasetIndex: 9},
                            {text: "1", pointStyle: legendKey(teal), fillStyle: teal, strokeStyle: teal, lineWidth: 0, datasetIndex: 10}
                        ];
                    }
                }
            }
        }
    }
});
</script>
</body>
</html>
